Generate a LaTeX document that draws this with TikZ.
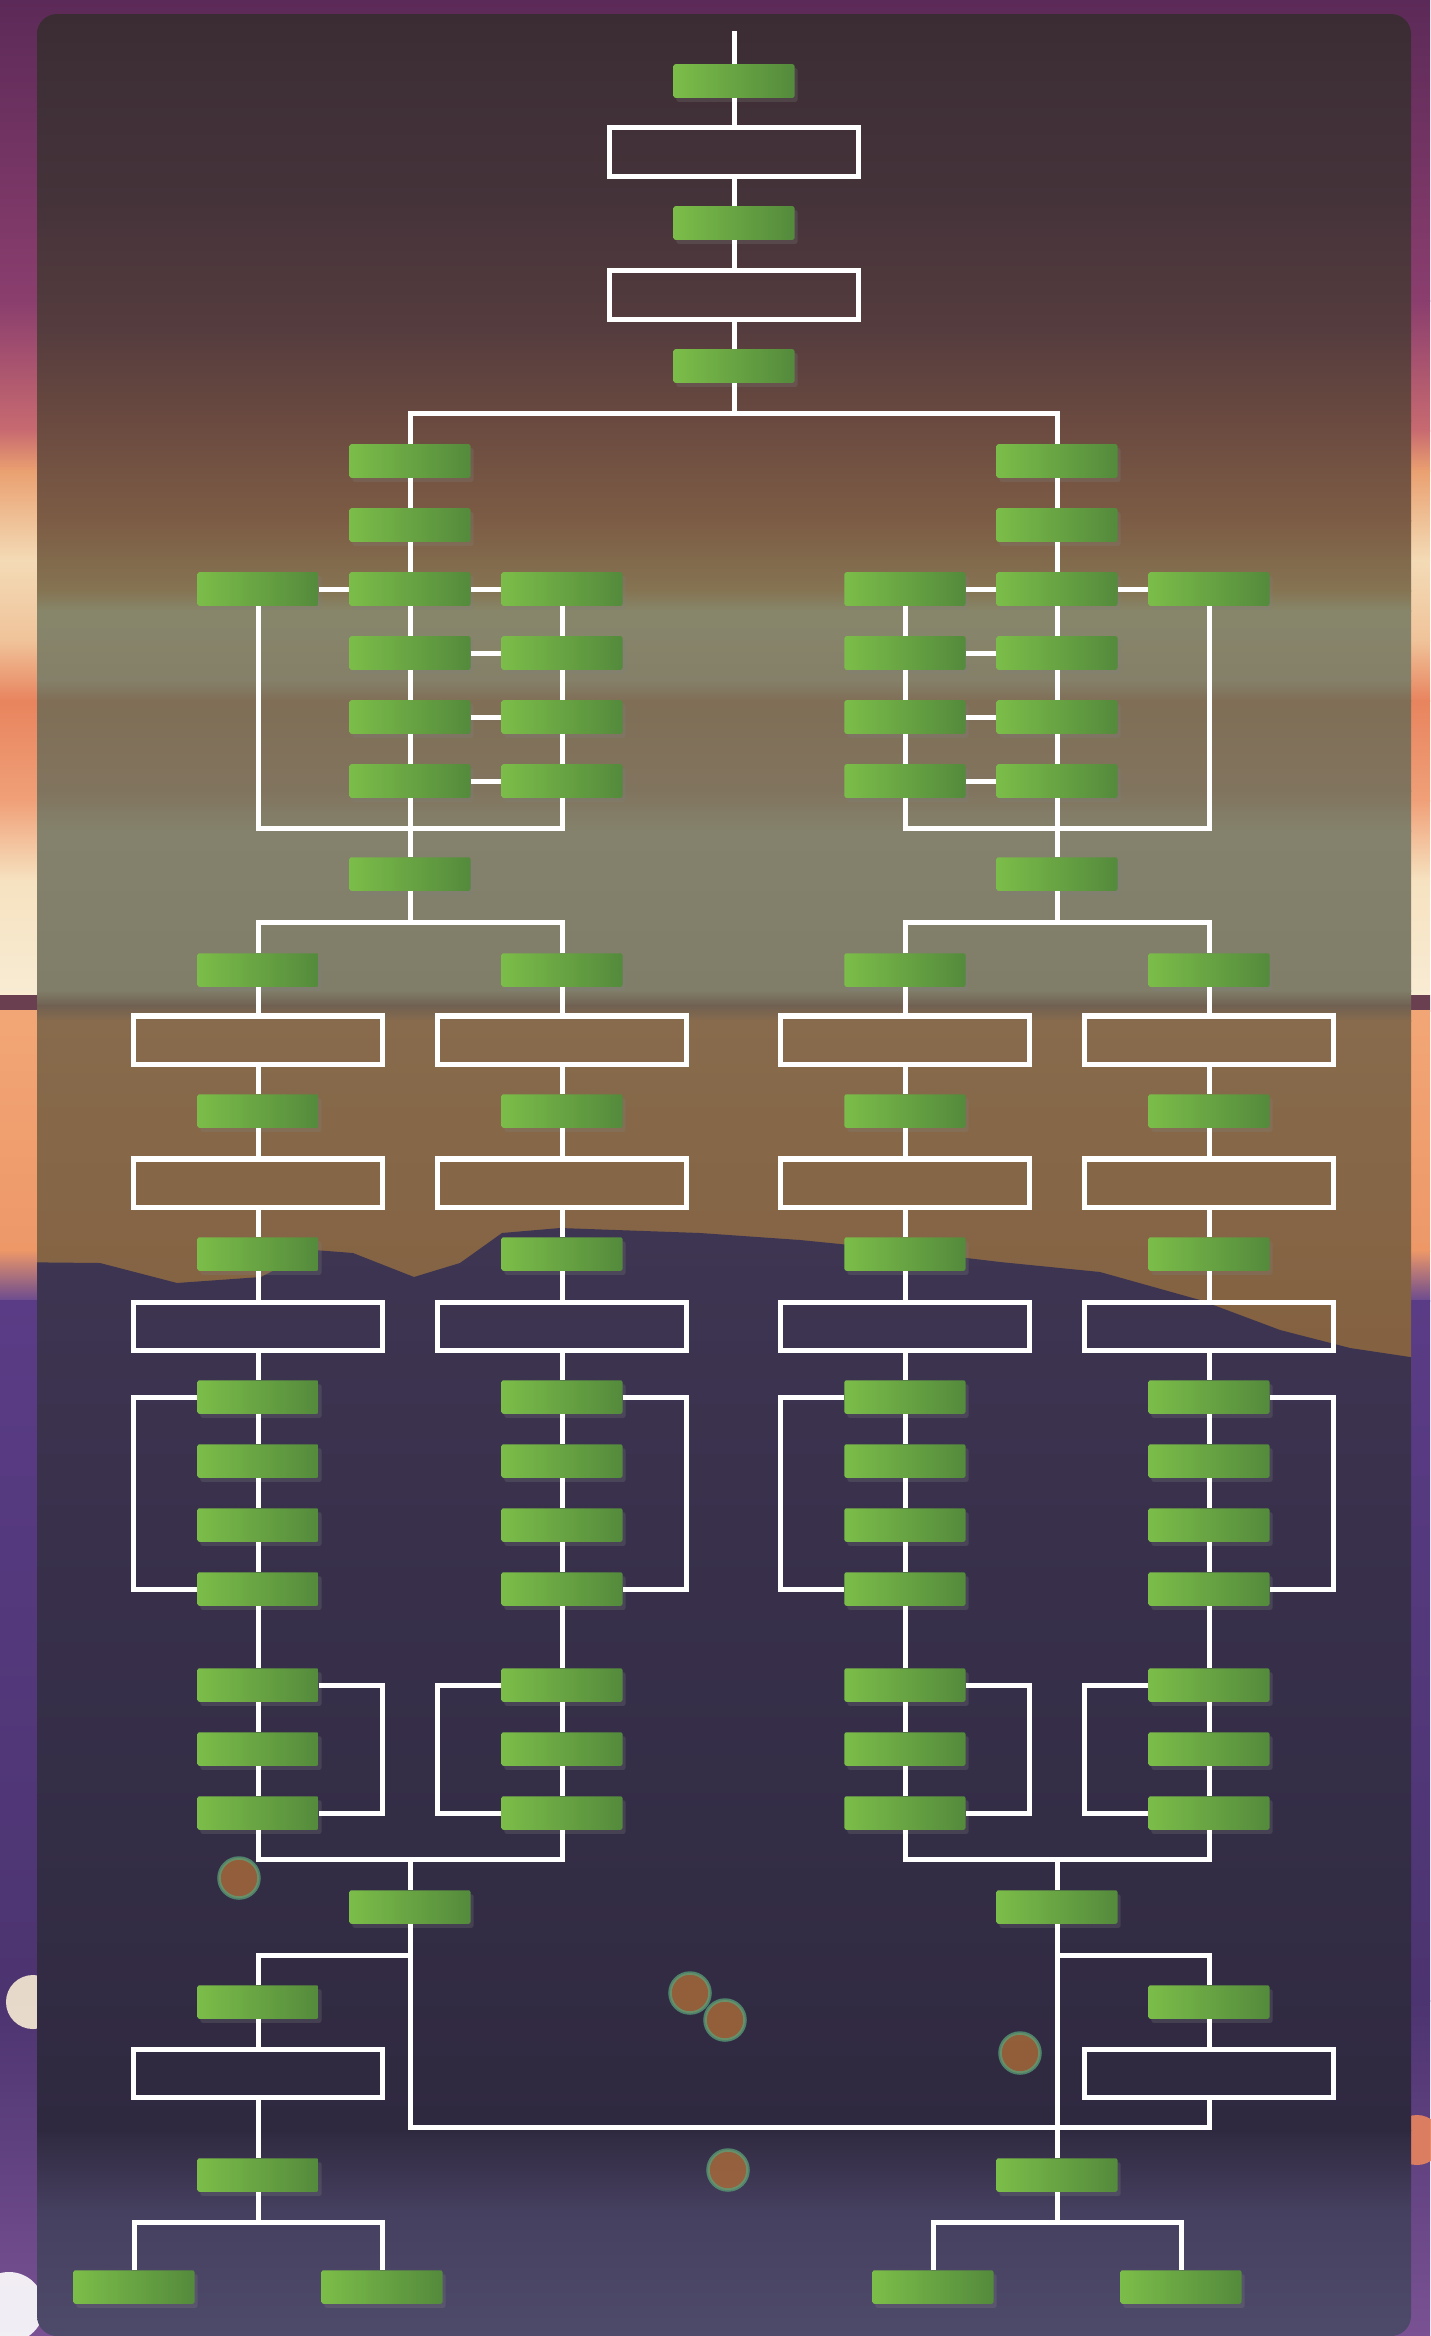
\documentclass[tikz,border=0pt]{standalone}
\usetikzlibrary{shadows}

\definecolor{gLight}{RGB}{123,189,73}
\definecolor{gDark}{RGB}{84,138,60}
\definecolor{skyA}{RGB}{92,42,88}
\definecolor{skyB}{RGB}{138,62,110}
\definecolor{skyC}{RGB}{200,106,112}
\definecolor{skyD}{RGB}{234,160,112}
\definecolor{skyE}{RGB}{243,219,182}
\definecolor{skyF}{RGB}{240,195,154}
\definecolor{skyG}{RGB}{232,132,94}
\definecolor{skyH}{RGB}{240,160,120}
\definecolor{skyI}{RGB}{246,226,192}
\definecolor{skyJ}{RGB}{248,236,212}
\definecolor{skyK}{RGB}{106,64,80}
\definecolor{skyL}{RGB}{242,166,118}
\definecolor{skyM}{RGB}{238,152,104}
\definecolor{skyN}{RGB}{106,74,144}
\definecolor{skyO}{RGB}{90,60,134}
\definecolor{skyP}{RGB}{76,52,112}
\definecolor{skyQ}{RGB}{122,82,148}
\definecolor{panA}{RGB}{59,44,51}
\definecolor{panB}{RGB}{69,51,58}
\definecolor{panC}{RGB}{85,60,62}
\definecolor{panD}{RGB}{106,74,64}
\definecolor{panE}{RGB}{125,92,69}
\definecolor{panF}{RGB}{133,116,82}
\definecolor{panG}{RGB}{135,134,106}
\definecolor{panH}{RGB}{133,128,105}
\definecolor{panI}{RGB}{128,110,86}
\definecolor{panJ}{RGB}{129,116,94}
\definecolor{panK}{RGB}{132,130,108}
\definecolor{panL}{RGB}{128,126,104}
\definecolor{panM}{RGB}{112,96,82}
\definecolor{panN}{RGB}{135,107,76}
\definecolor{panO}{RGB}{131,96,63}
\definecolor{panP}{RGB}{62,53,82}
\definecolor{panQ}{RGB}{47,41,64}
\definecolor{panR}{RGB}{70,64,96}
\definecolor{panS}{RGB}{78,74,106}
\definecolor{bkFill}{RGB}{180,112,56}
\definecolor{bkRing}{RGB}{90,160,120}

\begin{document}
\begin{tikzpicture}[x=0.01cm,y=-0.01cm,
  gbox/.style={rounded corners=0.02cm,left color=gLight,right color=gDark,minimum width=1.21cm,minimum height=0.335cm,inner sep=0pt,outer sep=0pt,drop shadow={opacity=0.25,shadow xshift=0.03cm,shadow yshift=-0.04cm}},
  wbox/.style={draw=white,line width=0.05cm,minimum width=2.48cm,minimum height=0.48cm,inner sep=0pt},
  link/.style={draw=white,line width=0.05cm},
  bokeh/.style={fill=bkFill,draw=bkRing,line width=0.035cm,opacity=0.75}]

\useasboundingbox (0,0) rectangle (1430,2336);

% photo behind the panel
\foreach \ya/\yb/\ca/\cb in {0/300/skyA/skyB,300/430/skyB/skyC,430/470/skyC/skyD,470/560/skyD/skyE,560/640/skyE/skyF,640/700/skyF/skyG,700/800/skyG/skyH,800/880/skyH/skyI,880/995/skyI/skyJ,995/1010/skyK/skyK,1010/1250/skyL/skyM,1250/1300/skyM/skyN,1300/2000/skyO/skyP,2000/2336/skyP/skyQ}
  \shade[top color=\ca,bottom color=\cb] (0,\ya) rectangle (1430,\yb+1);
\fill[skyJ,opacity=0.9] (33,2002) circle[radius=0.27cm];
\fill[white,opacity=0.9] (9,2307) circle[radius=0.35cm];
\fill[skyG,opacity=0.9] (1417,2140) circle[radius=0.25cm];

\begin{scope}
\clip[rounded corners=0.2cm] (37,14) rectangle (1411,2336);
\foreach \ya/\yb/\ca/\cb in {14/200/panA/panB,200/330/panB/panC,330/420/panC/panD,420/520/panD/panE,520/590/panE/panF,590/610/panF/panG,610/680/panG/panH,680/700/panH/panI,700/790/panI/panJ,790/830/panJ/panK,830/990/panK/panL,990/1005/panL/panM,1005/1020/panM/panN,1020/1400/panN/panO,2130/2210/panQ/panR,2210/2336/panR/panS}
  \shade[top color=\ca,bottom color=\cb] (0,\ya) rectangle (1430,\yb+1);
\shade[top color=panP,bottom color=panQ] (0,1262) -- (100,1263) -- (177,1283) -- (261,1277) -- (314,1250) -- (353,1253) -- (414,1277) -- (460,1263) -- (502,1233) -- (560,1228) -- (700,1233) -- (800,1240) -- (900,1250) -- (1000,1262) -- (1100,1272) -- (1200,1300) -- (1280,1330) -- (1350,1348) -- (1430,1360) -- (1430,2131) -- (0,2131) -- cycle;
\foreach \x/\y in {239/1878,690/1993,725/2020,1020/2053,728/2170}
  \path[bokeh] (\x,\y) circle[radius=0.2cm];
\end{scope}

% trunk
\coordinate (t_0) at (734,31);
\node[gbox] (t_1) at (734,81) {};
\node[wbox] (t_2) at (734,152) {};
\node[gbox] (t_3) at (734,223) {};
\node[wbox] (t_4) at (734,295) {};
\node[gbox] (t_5) at (734,366) {};
\coordinate (t_6) at (734,413);
\foreach \a/\b in {0/1,1/2,2/3,3/4,4/5,5/6}
  \path (t_\a) edge[link] (t_\b);

% two branches
\foreach \i/\y in {1/461,2/525,3/589,4/653,5/717,6/781}{
  \node[gbox] (l_\i) at (410,\y) {};
  \node[gbox] (r_\i) at (1057,\y) {};
}
\foreach \i/\y in {3/589,4/653,5/717,6/781}{
  \node[gbox] (li_\i) at (562,\y) {};
  \node[gbox] (ri_\i) at (905,\y) {};
}
\node[gbox] (lo) at (258,589) {};
\node[gbox] (ro) at (1209,589) {};
\node[gbox] (l_7) at (410,874) {};
\node[gbox] (r_7) at (1057,874) {};
\coordinate (lb) at (410,828);
\coordinate (rb) at (1057,828);

\draw[link] (l_1.north) |- (t_6) -| (r_1.north);
\foreach \a/\b in {1/2,2/3,3/4,4/5,5/6,6/7}{
  \path (l_\a) edge[link] (l_\b);
  \path (r_\a) edge[link] (r_\b);
}
\path (lo) edge[link] (l_3);
\path (ro) edge[link] (r_3);
\foreach \i in {3,...,6}{
  \path (l_\i) edge[link] (li_\i);
  \path (r_\i) edge[link] (ri_\i);
}
\foreach \a/\b in {3/4,4/5,5/6}{
  \path (li_\a) edge[link] (li_\b);
  \path (ri_\a) edge[link] (ri_\b);
}
\draw[link] (lo.south) |- (lb) -| (li_6.south);
\draw[link] (ri_6.south) |- (rb) -| (ro.south);

% four columns
\foreach \k/\x in {1/258,2/562,3/905,4/1209}{
  \foreach \i/\y in {1/970,3/1111,5/1254,7/1397,8/1461,9/1525,10/1589,11/1685,12/1749,13/1813}
    \node[gbox] (s\k_\i) at (\x,\y) {};
  \foreach \i/\y in {2/1040,4/1183,6/1326}
    \node[wbox] (s\k_\i) at (\x,\y) {};
  \foreach \a [count=\b from 2] in {1,...,12}
    \path (s\k_\a) edge[link] (s\k_\b);
}
\foreach \k in {1,3}{
  \draw[link] (s\k_7.west) -- ++(-63.5,0) |- (s\k_10.west);
  \draw[link] (s\k_11.east) -- ++(63.5,0) |- (s\k_13.east);
}
\foreach \k in {2,4}{
  \draw[link] (s\k_7.east) -- ++(63.5,0) |- (s\k_10.east);
  \draw[link] (s\k_11.west) -- ++(-63.5,0) |- (s\k_13.west);
}
\coordinate (ls) at (410,922);
\coordinate (rs) at (1057,922);
\draw[link] (l_7) -- (ls);
\draw[link] (r_7) -- (rs);
\draw[link] (s1_1.north) |- (ls) -| (s2_1.north);
\draw[link] (s3_1.north) |- (rs) -| (s4_1.north);

% bottom
\node[gbox] (l_8) at (410,1907) {};
\node[gbox] (r_8) at (1057,1907) {};
\coordinate (lj) at (410,1859);
\coordinate (rj) at (1057,1859);
\draw[link] (s1_13.south) |- (lj) -| (s2_13.south);
\draw[link] (s3_13.south) |- (rj) -| (s4_13.south);
\draw[link] (lj) -- (l_8);
\draw[link] (rj) -- (r_8);

\node[gbox] (lf_1) at (258,2002) {};
\node[wbox] (lf_2) at (258,2073) {};
\node[gbox] (lf_3) at (258,2175) {};
\node[gbox] (lf_4) at (134,2287) {};
\node[gbox] (lf_5) at (382,2287) {};
\node[gbox] (rf_1) at (1209,2002) {};
\node[wbox] (rf_2) at (1209,2073) {};
\node[gbox] (rf_3) at (1057,2175) {};
\node[gbox] (rf_4) at (933,2287) {};
\node[gbox] (rf_5) at (1181,2287) {};
\coordinate (lk) at (410,1955);
\coordinate (rk) at (1057,1955);
\coordinate (lx) at (410,2127);
\coordinate (lq) at (258,2222);
\coordinate (rq) at (1057,2222);

\draw[link] (l_8.south) -- (lx) -| (rf_2.south);
\draw[link] (lf_1.north) |- (lk);
\draw[link] (r_8) -- (rf_3);
\draw[link] (rk) -| (rf_1.north);
\path (lf_1) edge[link] (lf_2) (lf_2) edge[link] (lf_3);
\path (rf_1) edge[link] (rf_2);
\draw[link] (lf_3) -- (lq);
\draw[link] (rf_3) -- (rq);
\draw[link] (lf_4.north) |- (lq) -| (lf_5.north);
\draw[link] (rf_4.north) |- (rq) -| (rf_5.north);

\end{tikzpicture}
\end{document}
